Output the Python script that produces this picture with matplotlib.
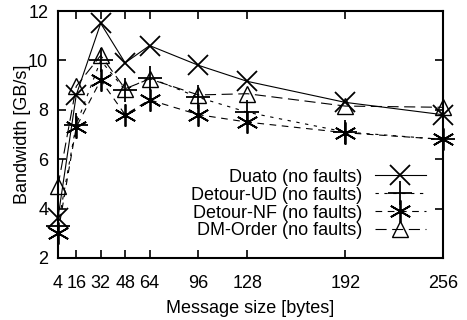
import matplotlib
matplotlib.use("Agg")
import matplotlib.pyplot as plt

plt.rcParams['font.family'] = ['Liberation Sans', 'DejaVu Sans']

sizes = [4, 16, 32, 48, 64, 96, 128, 192, 256]
duato = [3.6, 8.6, 11.5, 9.9, 10.6, 9.8, 9.15, 8.3, 7.8]
detour_ud = [3.3, 7.4, 10.0, 8.8, 9.3, 8.5, 7.9, 7.1, 6.8]
detour_nf = [3.0, 7.3, 9.2, 7.8, 8.4, 7.8, 7.5, 7.07, 6.8]
dm_order = [4.9, 8.95, 10.2, 8.85, 9.25, 8.6, 8.65, 8.15, 8.1]

series_labels = ["Duato (no faults)", "Detour-UD (no faults)",
                 "Detour-NF (no faults)", "DM-Order (no faults)"]
x_ticks = [4, 16, 32, 48, 64, 96, 128, 192, 256]
y_ticks = [2, 4, 6, 8, 10, 12]

fig = plt.figure(figsize=(4.67, 3.2), dpi=100)
ax = fig.add_axes([0.124, 0.194, 0.8246, 0.7716])

asterisk = (6, 2, 0)
ax.plot(sizes, duato, color='black', lw=0.8, ls='-', marker='x',
        ms=15, mew=1.3, label=series_labels[0], clip_on=False)
ax.plot(sizes, detour_ud, color='black', lw=0.8, ls=(0, (3, 5)), marker='+',
        ms=17, mew=1.3, label=series_labels[1], clip_on=False)
ax.plot(sizes, detour_nf, color='black', lw=0.8, ls=(0, (6, 5)), marker=asterisk,
        ms=16, mew=1.3, label=series_labels[2], clip_on=False)
ax.plot(sizes, dm_order, color='black', lw=0.8, ls=(0, (10, 5)), marker='^',
        ms=12, mew=1.0, fillstyle='none', label=series_labels[3], clip_on=False)

ax.set_xlim(4, 256)
ax.set_ylim(2, 12)
ax.set_xticks(x_ticks)
ax.set_yticks(y_ticks)
ax.tick_params(direction='in', length=6, width=1.2, labelsize=13,
               top=True, right=True)
ax.tick_params(axis='x', pad=12)
ax.tick_params(axis='y', pad=7)
for s in ax.spines.values():
    s.set_linewidth(1.5)

ax.set_xlabel("Message size [bytes]", fontsize=13, labelpad=6)
ax.set_ylabel("Bandwidth [GB/s]", fontsize=13, labelpad=-2)

leg = ax.legend(loc='lower right', frameon=False, markerfirst=False,
                fontsize=13, handlelength=2.8, labelspacing=0.0,
                handletextpad=0.7, borderaxespad=0.0, borderpad=0.0,
                handleheight=0.9, bbox_to_anchor=(0.955, 0.075))
for t in leg.get_texts():
    t.set_ha('right')

fig.savefig("out.png", dpi=100)
